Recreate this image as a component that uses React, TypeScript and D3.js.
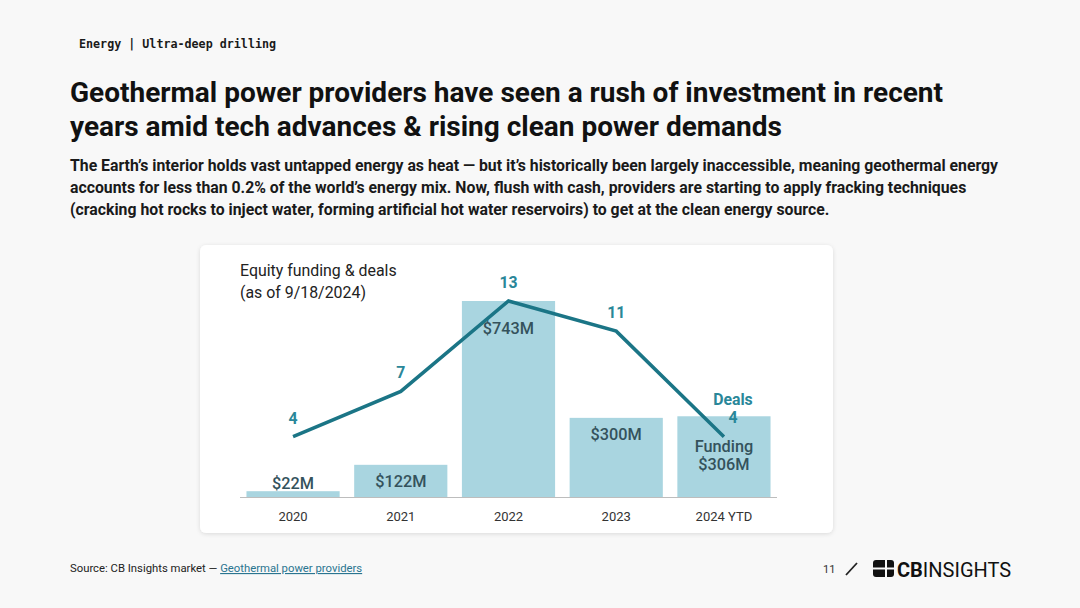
import React, { useEffect, useRef } from 'react';
import * as d3 from 'd3';

const categories = ['2020', '2021', '2022', '2023', '2024 YTD'];
const funding = [22, 122, 743, 300, 306];
const fundingLabels = ['$22M', '$122M', '$743M', '$300M', '$306M'];
const deals = [4, 7, 13, 11, 4];

const subtitleLines = [
  'The Earth\u2019s interior holds vast untapped energy as heat \u2014 but it\u2019s historically been largely inaccessible, meaning geothermal energy',
  'accounts for less than 0.2% of the world\u2019s energy mix. Now, flush with cash, providers are starting to apply fracking techniques',
  '(cracking hot rocks to inject water, forming artificial hot water reservoirs) to get at the clean energy source.',
];

const W = 1080;
const H = 608;
const FONT = 'Roboto, "Noto Sans", sans-serif';

export default function App() {
  const svgRef = useRef<SVGSVGElement>(null);

  useEffect(() => {
    document.body.style.margin = '0';
    if (!svgRef.current) return;
    const svg = d3.select(svgRef.current);
    svg.selectAll('*').remove();

    svg.append('rect').attr('width', W).attr('height', H).attr('fill', '#f8f8f8');

    // header
    svg.append('text')
      .attr('x', 79).attr('y', 48)
      .style('font-family', '"DejaVu Sans Mono", "Liberation Mono", monospace')
      .style('font-size', '11.7px').style('font-weight', 700)
      .attr('fill', '#1a1a1a')
      .text('Energy | Ultra-deep drilling');

    // title
    const title = svg.append('text')
      .style('font-family', FONT).style('font-size', '28px').style('font-weight', 700)
      .attr('fill', '#111');
    ['Geothermal power providers have seen a rush of investment in recent',
     'years amid tech advances & rising clean power demands'].forEach((t, i) => {
      title.append('tspan').attr('x', 70).attr('y', 102 + i * 34).text(t);
    });

    const sub = svg.append('text')
      .style('font-family', FONT).style('font-size', '15.8px').style('font-weight', 700)
      .attr('fill', '#1a1a1a');
    subtitleLines.forEach((t, i) => {
      sub.append('tspan').attr('x', 70).attr('y', 171 + i * 22).text(t);
    });

    // card
    const defs = svg.append('defs');
    const f = defs.append('filter').attr('id', 'shadow').attr('x', '-5%').attr('y', '-5%').attr('width', '110%').attr('height', '115%');
    f.append('feDropShadow').attr('dx', 0).attr('dy', 1).attr('stdDeviation', 2)
      .attr('flood-color', '#000').attr('flood-opacity', 0.12);
    svg.append('rect')
      .attr('x', 200).attr('y', 245).attr('width', 633).attr('height', 288)
      .attr('rx', 6).attr('fill', '#fff').attr('filter', 'url(#shadow)');

    const cardTitle = svg.append('text')
      .style('font-family', FONT).style('font-size', '15.9px').attr('fill', '#222');
    ['Equity funding & deals', '(as of 9/18/2024)'].forEach((t, i) => {
      cardTitle.append('tspan').attr('x', 240).attr('y', 276 + i * 22).text(t);
    });

    // scales
    const x = d3.scaleBand<string>().domain(categories).range([240, 777])
      .paddingInner(0.135).paddingOuter(0.06);
    const yF = d3.scaleLinear().domain([0, 743]).range([497, 301]);
    const yD = d3.scaleLinear().domain([0, 13]).range([497, 301]);
    const cx = (c: string) => (x(c) as number) + x.bandwidth() / 2;

    svg.append('g').selectAll('rect')
      .data(categories)
      .join('rect')
      .attr('x', d => x(d) as number)
      .attr('width', x.bandwidth())
      .attr('y', (d, i) => yF(funding[i]))
      .attr('height', (d, i) => yF(0) - yF(funding[i]))
      .attr('fill', '#a9d5e0');

    svg.append('line')
      .attr('x1', 240).attr('x2', 777).attr('y1', yF(0) + 0.5).attr('y2', yF(0) + 0.5)
      .attr('stroke', '#bdbdbd').attr('stroke-width', 1);

    svg.append('g').selectAll('text')
      .data(categories)
      .join('text')
      .attr('x', d => cx(d)).attr('y', 521)
      .attr('text-anchor', 'middle')
      .style('font-family', FONT).style('font-size', '13px')
      .attr('fill', '#333')
      .text(d => d);

    // funding labels
    const last = categories.length - 1;
    const peak = funding.indexOf(d3.max(funding) as number);
    svg.append('g').selectAll('text')
      .data(categories.slice(0, last))
      .join('text')
      .attr('x', d => cx(d))
      .attr('y', (d, i) => Math.min(yF(funding[i]) + (i === peak ? 33 : 22), yF(0) - 8))
      .attr('text-anchor', 'middle')
      .style('font-family', FONT).style('font-size', '16.3px').style('font-weight', 500)
      .attr('fill', '#34525c')
      .text((d, i) => fundingLabels[i]);

    const lastF = svg.append('text')
      .attr('text-anchor', 'middle')
      .style('font-family', FONT).style('font-size', '16.3px').style('font-weight', 500)
      .attr('fill', '#34525c');
    lastF.append('tspan').attr('x', cx(categories[last])).attr('y', yF(funding[last]) + 36).text('Funding');
    lastF.append('tspan').attr('x', cx(categories[last])).attr('y', yF(funding[last]) + 54).text(fundingLabels[last]);

    // deals line
    const line = d3.line<number>()
      .x((d, i) => cx(categories[i]))
      .y(d => yD(d));
    svg.append('path')
      .datum(deals)
      .attr('d', line)
      .attr('fill', 'none')
      .attr('stroke', '#1b7586')
      .attr('stroke-width', 3.5)
      .attr('stroke-linejoin', 'miter');

    svg.append('g').selectAll('text')
      .data(deals.slice(0, last))
      .join('text')
      .attr('x', (d, i) => cx(categories[i]))
      .attr('y', d => yD(d) - 13)
      .attr('text-anchor', 'middle')
      .style('font-family', FONT).style('font-size', '15.8px').style('font-weight', 700)
      .attr('fill', '#2a8799')
      .text(d => d);

    const lastD = svg.append('text')
      .attr('text-anchor', 'middle')
      .style('font-family', FONT).style('font-size', '15.8px').style('font-weight', 700)
      .attr('fill', '#2a8799');
    lastD.append('tspan').attr('x', cx(categories[last]) + 9).attr('y', yD(deals[last]) - 32).text('Deals');
    lastD.append('tspan').attr('x', cx(categories[last]) + 9).attr('y', yD(deals[last]) - 14).text(deals[last]);

    // footer
    const src = svg.append('text')
      .attr('x', 70).attr('y', 572)
      .style('font-family', FONT).style('font-size', '11.3px')
      .attr('fill', '#222');
    src.append('tspan').text('Source: CB Insights market \u2014 ');
    src.append('tspan').attr('fill', '#2a7590').style('text-decoration', 'underline').text('Geothermal power providers');

    svg.append('text')
      .attr('x', 823).attr('y', 573)
      .style('font-family', FONT).style('font-size', '11px')
      .attr('fill', '#333')
      .text('11');
    svg.append('line')
      .attr('x1', 846).attr('y1', 575).attr('x2', 857).attr('y2', 563)
      .attr('stroke', '#222').attr('stroke-width', 1.8);

    // logo
    const logo = svg.append('g').attr('transform', 'translate(873,560)');
    logo.append('rect').attr('width', 21).attr('height', 17).attr('rx', 3).attr('fill', '#111');
    logo.append('rect').attr('x', 0).attr('y', 7.5).attr('width', 21).attr('height', 2).attr('fill', '#f8f8f8');
    logo.append('rect').attr('x', 12).attr('y', 0).attr('width', 2).attr('height', 17).attr('fill', '#f8f8f8');
    const lt = svg.append('text')
      .attr('x', 897).attr('y', 577)
      .style('font-family', FONT).style('font-size', '20px')
      .attr('fill', '#111');
    lt.append('tspan').style('font-weight', 700).text('CB');
    lt.append('tspan').style('font-weight', 400).text('INSIGHTS');
  }, []);

  return (
    <svg ref={svgRef} width={W} height={H} style={{ display: 'block' }} />
  );
}
